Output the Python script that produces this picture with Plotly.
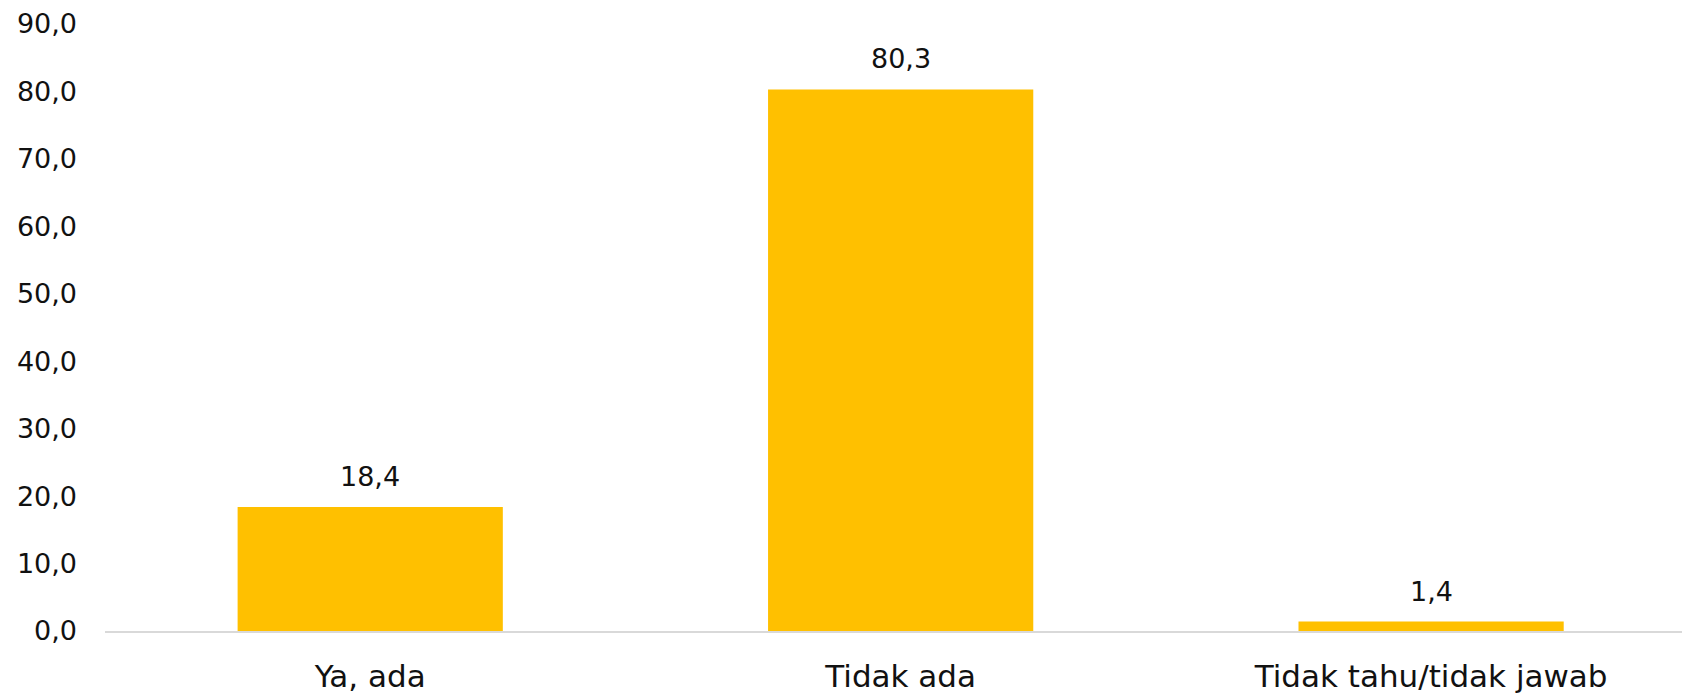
import plotly.graph_objects as go

categories = ['Ya, ada', 'Tidak ada', 'Tidak tahu/tidak jawab']
values = [18.4, 80.3, 1.4]
y_ticks = [0, 10, 20, 30, 40, 50, 60, 70, 80, 90]

font_family = '"DejaVu Sans", sans-serif'
text_color = '#111111'

fig = go.Figure(
    go.Bar(
        x=categories,
        y=values,
        marker=dict(color='#FFC000', line=dict(width=0)),
        hoverinfo='x+y',
    )
)

# value labels above the bars
for cat, val in zip(categories, values):
    fig.add_annotation(
        x=cat, y=val,
        text=f'{val:.1f}'.replace('.', ','),
        showarrow=False,
        yanchor='bottom',
        yshift=13,
        font=dict(size=27, color=text_color, family=font_family),
    )

fig.update_xaxes(
    range=[-0.5, 2.473],
    showline=True,
    linecolor='#D9D9D9',
    linewidth=2,
    showgrid=False,
    ticks='',
    ticklabelstandoff=17,
    tickfont=dict(size=31, color=text_color, family=font_family),
)
fig.update_yaxes(
    range=[0, 90],
    tickvals=y_ticks,
    tickformat='.1f',
    showgrid=False,
    zeroline=False,
    showline=False,
    ticklabelstandoff=27,
    tickfont=dict(size=27, color=text_color, family=font_family),
)
fig.update_layout(
    width=1682,
    height=694,
    margin=dict(l=105, r=0, t=24, b=56),
    bargap=0.5,
    separators=', ',
    plot_bgcolor='white',
    paper_bgcolor='white',
    showlegend=False,
)

# drop the default body margin so the figure sits at the page corner
fig.write_html(
    'out.html',
    config={'displayModeBar': False},
    post_script="document.body.style.margin='0';",
)
